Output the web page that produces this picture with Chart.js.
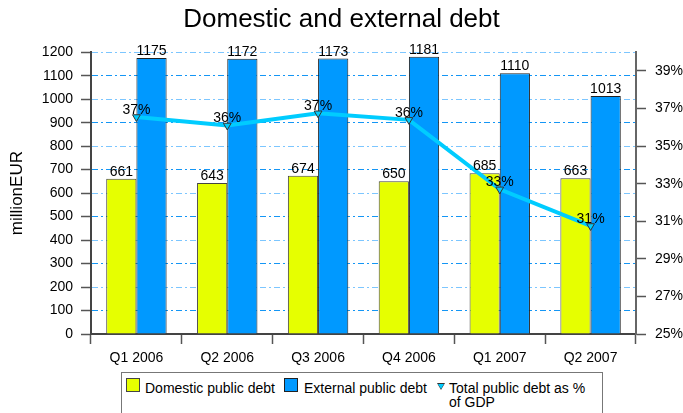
<!DOCTYPE html>
<html>
<head>
<meta charset="utf-8">
<script src="https://cdn.jsdelivr.net/npm/chart.js@4/dist/chart.umd.min.js"></script>
<style>
  html, body { margin: 0; padding: 0; background: #fff; }
  #wrap { position: relative; width: 683px; height: 413px; overflow: hidden; font-family: "Liberation Sans", Arial, sans-serif; }
  #c { position: absolute; left: 0; top: 0; }
  #legend { position: absolute; left: 121px; top: 372px; width: 482px; height: 60px; border: 1px solid #777; box-sizing: border-box; background: #fff; }
  .li { position: absolute; font-size: 14px; line-height: 14px; color: #000; white-space: nowrap; }
  .sw { position: absolute; width: 12px; height: 12px; border: 1px solid #333; }
  .tri { position: absolute; width: 0; height: 0; border-left: 4px solid transparent; border-right: 4px solid transparent; border-top: 7px solid #333; }
  .tri2 { position: absolute; width: 0; height: 0; border-left: 3px solid transparent; border-right: 3px solid transparent; border-top: 5px solid #00ccff; }
</style>
</head>
<body>
<div id="wrap">
  <canvas id="c" width="683" height="413"></canvas>
  <div id="legend"></div>
</div>
<script>
const categories = ["Q1 2006", "Q2 2006", "Q3 2006", "Q4 2006", "Q1 2007", "Q2 2007"];
const domesticDebt = [661, 643, 674, 650, 685, 663];
const externalDebt = [1175, 1172, 1173, 1181, 1110, 1013];
const debtPctGdp = [36.55, 36.1, 36.75, 36.4, 32.7, 30.75];
const seriesNames = ["Domestic public debt", "External public debt", "Total public debt as % of GDP"];
const rightTicks = [25, 27, 29, 31, 33, 35, 37, 39];

const FONT = '"Liberation Sans", Arial, sans-serif';
const YELLOW = '#e6ff00';
const BLUE = '#0099ff';
const CYAN = '#00ccff';

const valueLabels = {
  id: 'valueLabels',
  afterDatasetsDraw(chart) {
    const ctx = chart.ctx;
    ctx.save();
    ctx.font = '14px ' + FONT;
    ctx.fillStyle = '#000';
    ctx.textAlign = 'center';
    ctx.textBaseline = 'alphabetic';
    chart.data.datasets.forEach((ds, i) => {
      const meta = chart.getDatasetMeta(i);
      meta.data.forEach((el, j) => {
        const v = ds.data[j];
        if (ds.type === 'line') {
          ctx.fillText(Math.round(v) + '%', el.x, el.y - 3);
        } else {
          ctx.fillText(String(v), el.x, el.y - 3);
        }
      });
    });
    ctx.restore();
  }
};

const chart = new Chart(document.getElementById('c'), {
  data: {
    labels: categories,
    datasets: [
      {
        type: 'line', label: seriesNames[2], data: debtPctGdp, yAxisID: 'y1', order: 0,
        borderColor: CYAN, borderWidth: 4, tension: 0, fill: false,
        pointStyle: 'triangle', rotation: 180, pointRadius: 4.5,
        pointBackgroundColor: CYAN, pointBorderColor: '#333', pointBorderWidth: 1
      },
      {
        type: 'bar', label: seriesNames[0], data: domesticDebt, yAxisID: 'y', order: 1,
        backgroundColor: YELLOW, borderColor: '#444', borderWidth: 1,
        categoryPercentage: 0.665, barPercentage: 1.0
      },
      {
        type: 'bar', label: seriesNames[1], data: externalDebt, yAxisID: 'y', order: 1,
        backgroundColor: BLUE, borderColor: '#222', borderWidth: 1,
        categoryPercentage: 0.665, barPercentage: 1.0
      }
    ]
  },
  options: {
    responsive: false,
    animation: false,
    layout: { padding: 0 },
    plugins: {
      legend: { display: false },
      tooltip: { enabled: false },
      title: {
        display: true, text: 'Domestic and external debt', color: '#000',
        font: { family: FONT, size: 26, weight: 'normal' },
        padding: { top: 4, bottom: 17 }
      }
    },
    scales: {
      x: {
        offset: true,
        grid: { offset: true, drawOnChartArea: false, drawTicks: true, tickLength: 10, tickColor: '#555', tickWidth: 1.5 },
        border: { display: true, color: '#444', width: 2 },
        ticks: { color: '#000', padding: 6, font: { family: FONT, size: 14 }, maxRotation: 0 },
        afterFit(s) { s.height = 79; }
      },
      y: {
        position: 'left', min: 0, max: 1200,
        ticks: { stepSize: 100, color: '#000', padding: 8, font: { family: FONT, size: 14 }, callback: v => String(v) },
        grid: {
          color: c => (c.tick && c.tick.value % 200 === 0) ? '#7cc6ff' : '#1496f5',
          lineWidth: 1, tickLength: 10, tickColor: '#555', tickWidth: 1.5, tickBorderDash: [0, 0]
        },
        border: { display: true, color: '#444', width: 2, dash: [6, 3, 2, 3] },
        title: { display: true, text: 'millionEUR', color: '#000', font: { family: FONT, size: 17 }, padding: { top: 7, bottom: 0 } },
        afterFit(s) { s.width = 91; }
      },
      y1: {
        position: 'right', min: 25, max: 40,
        afterBuildTicks(s) { s.ticks = rightTicks.map(v => ({ value: v })); },
        ticks: { color: '#000', padding: 9, font: { family: FONT, size: 14 }, callback: v => v + '%' },
        grid: { drawOnChartArea: false, tickLength: 10, tickColor: '#555', tickWidth: 1.5 },
        border: { display: true, color: '#666', width: 2 },
        afterFit(s) { s.width = 47; }
      }
    }
  },
  plugins: [valueLabels]
});

// HTML legend built from dataset labels/colors
(function buildLegend() {
  const lg = document.getElementById('legend');
  const add = (html) => { lg.insertAdjacentHTML('beforeend', html); };
  add(`<div class="sw" style="left:4px;top:5px;background:${YELLOW};border-color:#444"></div>`);
  add(`<div class="li" style="left:23px;top:8px">${seriesNames[0]}</div>`);
  add(`<div class="sw" style="left:162px;top:5px;background:${BLUE};border-color:#222"></div>`);
  add(`<div class="li" style="left:182px;top:8px">${seriesNames[1]}</div>`);
  add(`<div class="tri" style="left:315px;top:10px"></div>`);
  add(`<div class="tri2" style="left:316px;top:10.5px"></div>`);
  add(`<div class="li" style="left:327px;top:8px">Total public debt as %<br>of GDP</div>`);
})();
</script>
</body>
</html>
